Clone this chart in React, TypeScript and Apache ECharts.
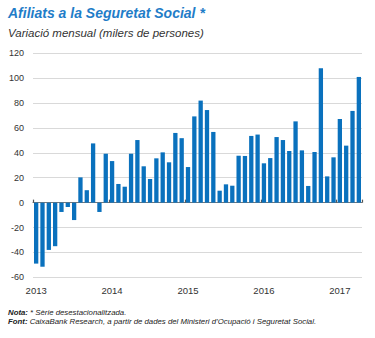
import React, { useEffect, useRef } from "react";
import * as echarts from "echarts";

const years = ["2013", "2014", "2015", "2016", "2017"];
const months = ["01", "02", "03", "04", "05", "06", "07", "08", "09", "10", "11", "12"];
const categories: string[] = [];
years.forEach((y) => months.forEach((m) => categories.push(`${y}-${m}`)));
categories.splice(52);

const values = [
  -49, -51.5, -38, -35, -7.5, -3.5, -14, 20.3, 10, 47.6, -7.5, 39.3,
  33.4, 15, 12.8, 39.3, 50.3, 29.2, 19, 35.6, 40.4, 32.4, 56, 51.8,
  28.6, 69.3, 82, 74.4, 56.8, 9.6, 14.7, 13.6, 37.7, 37.5, 53.6, 54.7,
  31.6, 35.8, 52.7, 50.3, 41.5, 65.3, 42, 13.4, 40.7, 107.9, 21.1, 36.4,
  67.2, 45.8, 73.7, 101,
];

const titleText = "Afiliats a la Seguretat Social *";
const subtitleText = "Variació mensual (milers de persones)";
const noteText = "{b|Nota:} * Sèrie desestacionalitzada.";
const sourceText = "{b|Font:} CaixaBank Research, a partir de dades del Ministeri d’Ocupació i Seguretat Social.";

const FONT = "'Liberation Sans', Arial, sans-serif";

export default function App() {
  const ref = useRef<HTMLDivElement>(null);
  useEffect(() => {
    if (!ref.current) return;
    const chart = echarts.init(ref.current, null, { renderer: "svg" });
    chart.setOption({
      animation: false,
      backgroundColor: "#ffffff",
      textStyle: { fontFamily: FONT },
      grid: { left: 33, right: 13, top: 53.3, bottom: 60.7, outerBoundsMode: "none", containLabel: false },
      xAxis: [
        {
          type: "category",
          data: categories,
          position: "bottom",
          axisLine: { show: false, onZero: false },
          axisTick: { show: false },
          axisLabel: {
            interval: 11,
            margin: 8,
            fontSize: 9.5,
            color: "#333",
            fontFamily: FONT,
            formatter: (v: string) => v.slice(0, 4),
          },
          splitLine: { show: false },
        },
        {
          type: "category",
          data: categories,
          position: "bottom",
          axisLine: { show: true, onZero: true, lineStyle: { color: "#777", width: 1 } },
          axisTick: { show: true, interval: 11, inside: true, length: 3, lineStyle: { color: "#555", width: 1.2 } },
          axisLabel: { show: false },
          splitLine: { show: false },
        },
      ],
      yAxis: {
        type: "value",
        min: -60,
        max: 120,
        interval: 20,
        axisLine: { show: false },
        axisTick: { show: false },
        axisLabel: { fontSize: 9, color: "#333", margin: 9, fontFamily: FONT },
        splitLine: { lineStyle: { color: "#d9d9d9", width: 1 } },
      },
      series: [
        {
          type: "bar",
          xAxisIndex: 0,
          data: values,
          barWidth: 4.3,
          itemStyle: { color: "#0a71bd" },
        },
      ],
      graphic: [
        {
          type: "text",
          left: 8,
          top: 6,
          style: {
            text: titleText,
            fontSize: 14,
            fontWeight: "bold",
            fontStyle: "italic",
            fill: "#1f7dc8",
            fontFamily: FONT,
          },
        },
        {
          type: "text",
          left: 8,
          top: 27,
          style: {
            text: subtitleText,
            fontSize: 11.5,
            fontStyle: "italic",
            fill: "#333",
            fontFamily: FONT,
          },
        },
        {
          type: "text",
          left: 8,
          top: 308.5,
          style: {
            text: noteText,
            fontSize: 7.8,
            fontStyle: "italic",
            fill: "#222",
            fontFamily: FONT,
            rich: { b: { fontWeight: "bold", fontStyle: "italic", fontSize: 7.8, fill: "#222", fontFamily: FONT } },
          },
        },
        {
          type: "text",
          left: 8,
          top: 317.5,
          style: {
            text: sourceText,
            fontSize: 7.8,
            fontStyle: "italic",
            fill: "#222",
            fontFamily: FONT,
            rich: { b: { fontWeight: "bold", fontStyle: "italic", fontSize: 7.8, fill: "#222", fontFamily: FONT } },
          },
        },
      ],
    });
    return () => chart.dispose();
  }, []);
  return (
    <div
      ref={ref}
      style={{ position: "fixed", left: 0, top: 0, width: 375, height: 338 }}
    />
  );
}
